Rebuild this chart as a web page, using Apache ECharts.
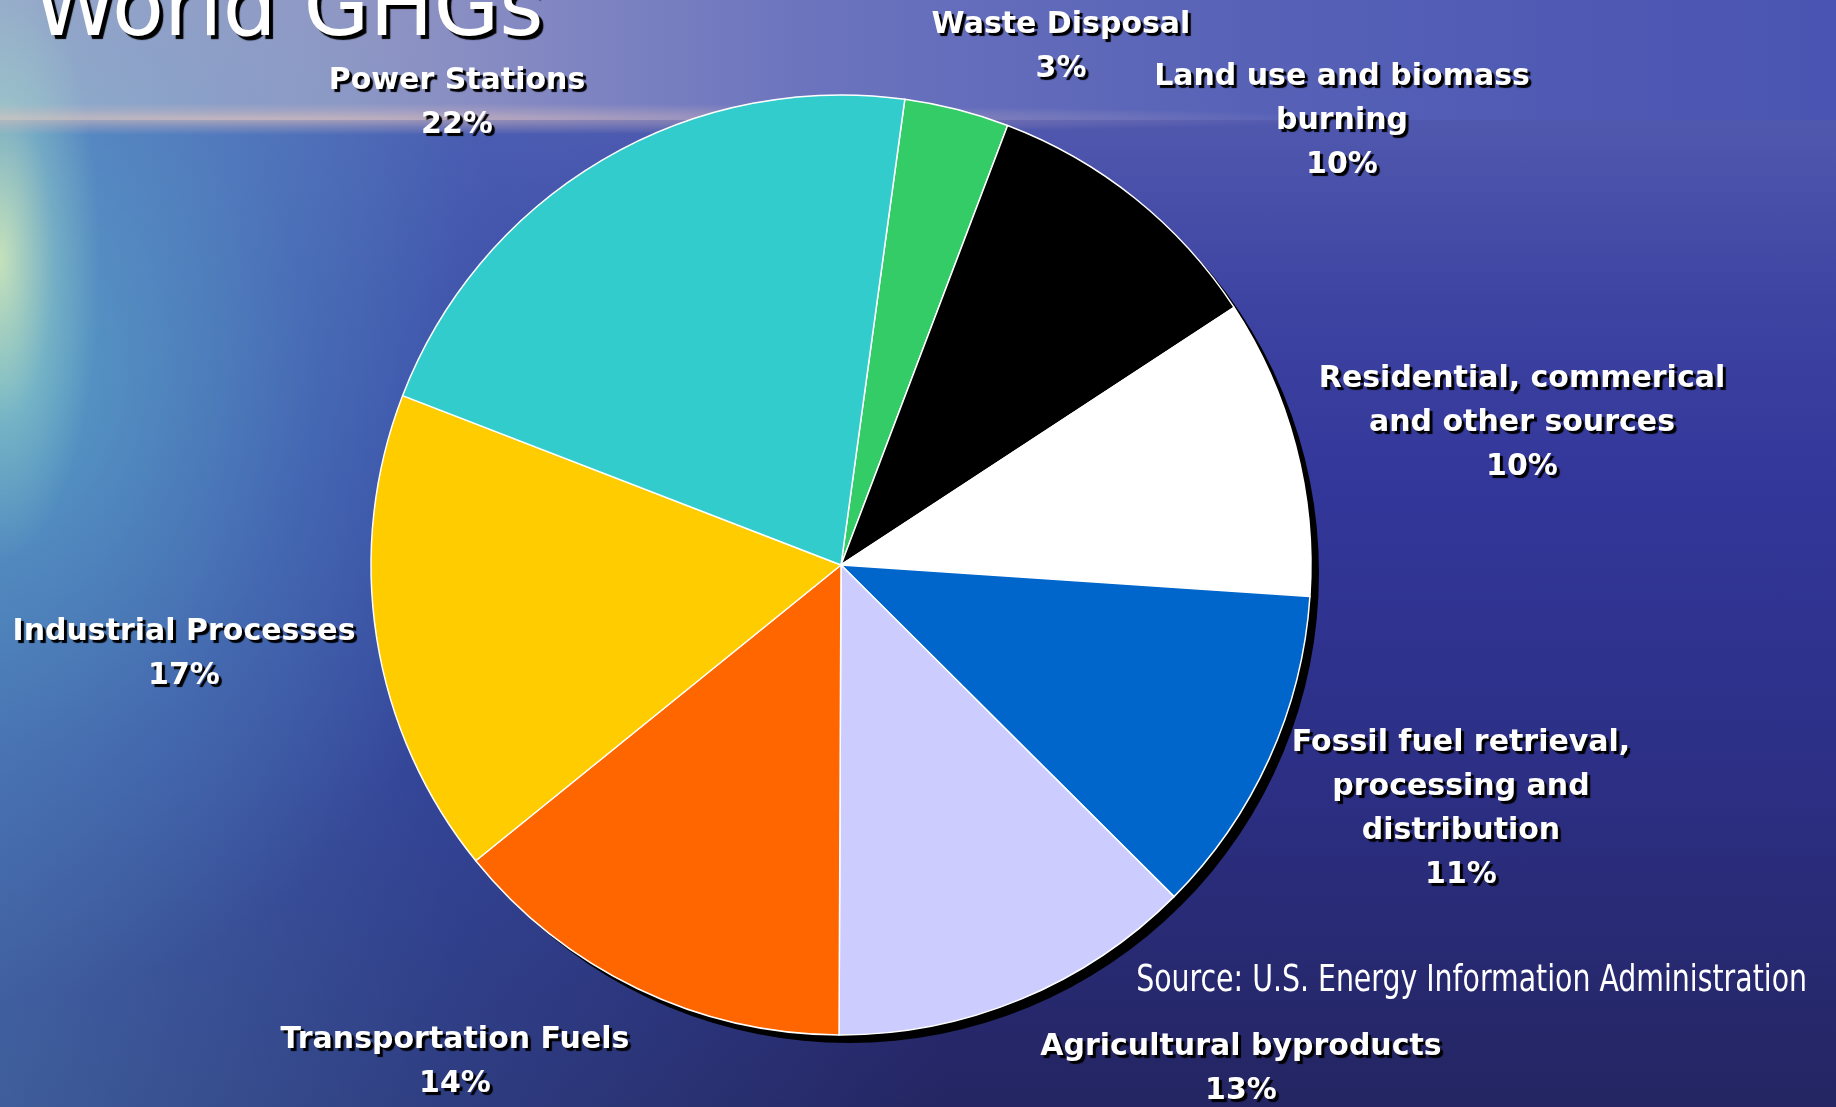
<!DOCTYPE html>
<html>
<head>
<meta charset="utf-8">
<script src="https://cdn.jsdelivr.net/npm/echarts@6/dist/echarts.min.js"></script>
<style>
html, body { margin:0; padding:0; width:1836px; height:1107px; overflow:hidden; }
body {
  background-color: #2c2f7c;
  background-image:
    radial-gradient(ellipse 1100px 16px at 250px 119px, rgba(230,195,185,0.6), rgba(215,185,190,0.3) 50%, rgba(200,180,200,0) 100%),
    radial-gradient(ellipse 100px 300px at 0px 260px, rgba(225,245,185,0.8), rgba(170,225,200,0.35) 55%, rgba(150,210,210,0) 100%),
    radial-gradient(ellipse 520px 620px at 0px 380px, rgba(100,195,210,0.6), rgba(90,165,205,0.25) 60%, rgba(90,150,200,0) 100%),
    linear-gradient(90deg, rgba(85,140,200,0.55) 0px, rgba(65,105,185,0.35) 450px, rgba(60,80,170,0.0) 950px),
    linear-gradient(90deg, #a8a8c8 0px, #9296c4 350px, #6c74be 800px, #5560b6 1300px, #4a54b2 1836px),
    linear-gradient(180deg, #5058ae 120px, #3e44a2 300px, #33379a 480px, #2c2f84 780px, #242562 1107px);
  background-size: 100% 100%, 100% 100%, 100% 100%, 100% 987px, 100% 120px, 100% 100%;
  background-position: 0 0, 0 0, 0 0, 0 120px, 0 0, 0 0;
  background-repeat: no-repeat;
}
#chart { width:1836px; height:1107px; }
</style>
</head>
<body>
<div id="chart"></div>
<script>
// ---- data ----
const categories = [
  'Waste Disposal',
  'Land use and biomass\nburning',
  'Residential, commerical\nand other sources',
  'Fossil fuel retrieval,\nprocessing and\ndistribution',
  'Agricultural byproducts',
  'Transportation Fuels',
  'Industrial Processes',
  'Power Stations'
];
const values = [3.6, 10.0, 10.3, 11.4, 12.6, 14.1, 16.7, 21.3];
const pctLabels = ['3%', '10%', '10%', '11%', '13%', '14%', '17%', '22%'];
const titleText = 'World GHGs';
const sourceText = 'Source: U.S. Energy Information Administration';

// ---- style / layout ----
const colors = ['#33cc66', '#000000', '#ffffff', '#0066cc', '#ccccff', '#ff6600', '#ffcc00', '#33cccc'];
const labelPos = [
  [1061, 47], [1342, 121], [1522, 423], [1461, 809],
  [1241, 1069], [455, 1062], [184, 654], [457, 103]
];
const pieCenter = [841, 565];
const pieRadius = 470;
const shadow = {textShadowColor: '#000', textShadowOffsetX: 3, textShadowOffsetY: 3, textShadowBlur: 1};

const chart = echarts.init(document.getElementById('chart'), null, {renderer: 'canvas'});
chart.setOption({
  backgroundColor: 'transparent',
  animation: false,
  title: [
    {
      text: titleText, left: 28, top: -35,
      textStyle: Object.assign({
        color: '#fff', fontFamily: 'DejaVu Sans', fontWeight: 'normal', fontSize: 85, lineHeight: 85
      }, shadow, {textShadowOffsetX: 4, textShadowOffsetY: 4})
    }
  ],
  graphic: [
    {
      type: 'text', x: 1807, y: 981, scaleX: 0.83, silent: true,
      style: {
        text: sourceText, fill: '#fff',
        font: 'normal 38px "DejaVu Sans Condensed", "DejaVu Sans", sans-serif',
        align: 'right', verticalAlign: 'middle',
        shadowColor: '#000', shadowOffsetX: 3, shadowOffsetY: 3, shadowBlur: 1
      }
    }
  ],
  series: [
    {
      type: 'pie', silent: true, center: [pieCenter[0] + 8, pieCenter[1] + 8], radius: pieRadius,
      data: [{value: 1, name: 'shadow', itemStyle: {color: '#000'}}],
      label: {show: false}, labelLine: {show: false}, emphasis: {disabled: true}
    },
    {
      type: 'pie', center: pieCenter, radius: pieRadius, startAngle: 82.2, clockwise: true,
      avoidLabelOverlap: false, silent: true,
      data: categories.map((n, i) => ({name: n, value: values[i], itemStyle: {color: colors[i]}})),
      itemStyle: {borderColor: '#ffffff', borderWidth: 1.5},
      label: Object.assign({
        show: true, position: 'outside',
        formatter: p => p.name + '\n' + pctLabels[p.dataIndex],
        color: '#fff', fontFamily: 'DejaVu Sans', fontWeight: 'bold', fontSize: 30, lineHeight: 44,
        align: 'center'
      }, shadow),
      labelLine: {show: false},
      labelLayout: p => ({
        x: labelPos[p.dataIndex][0], y: labelPos[p.dataIndex][1],
        align: 'center', verticalAlign: 'middle'
      }),
      emphasis: {disabled: true}
    }
  ]
});
</script>
</body>
</html>
